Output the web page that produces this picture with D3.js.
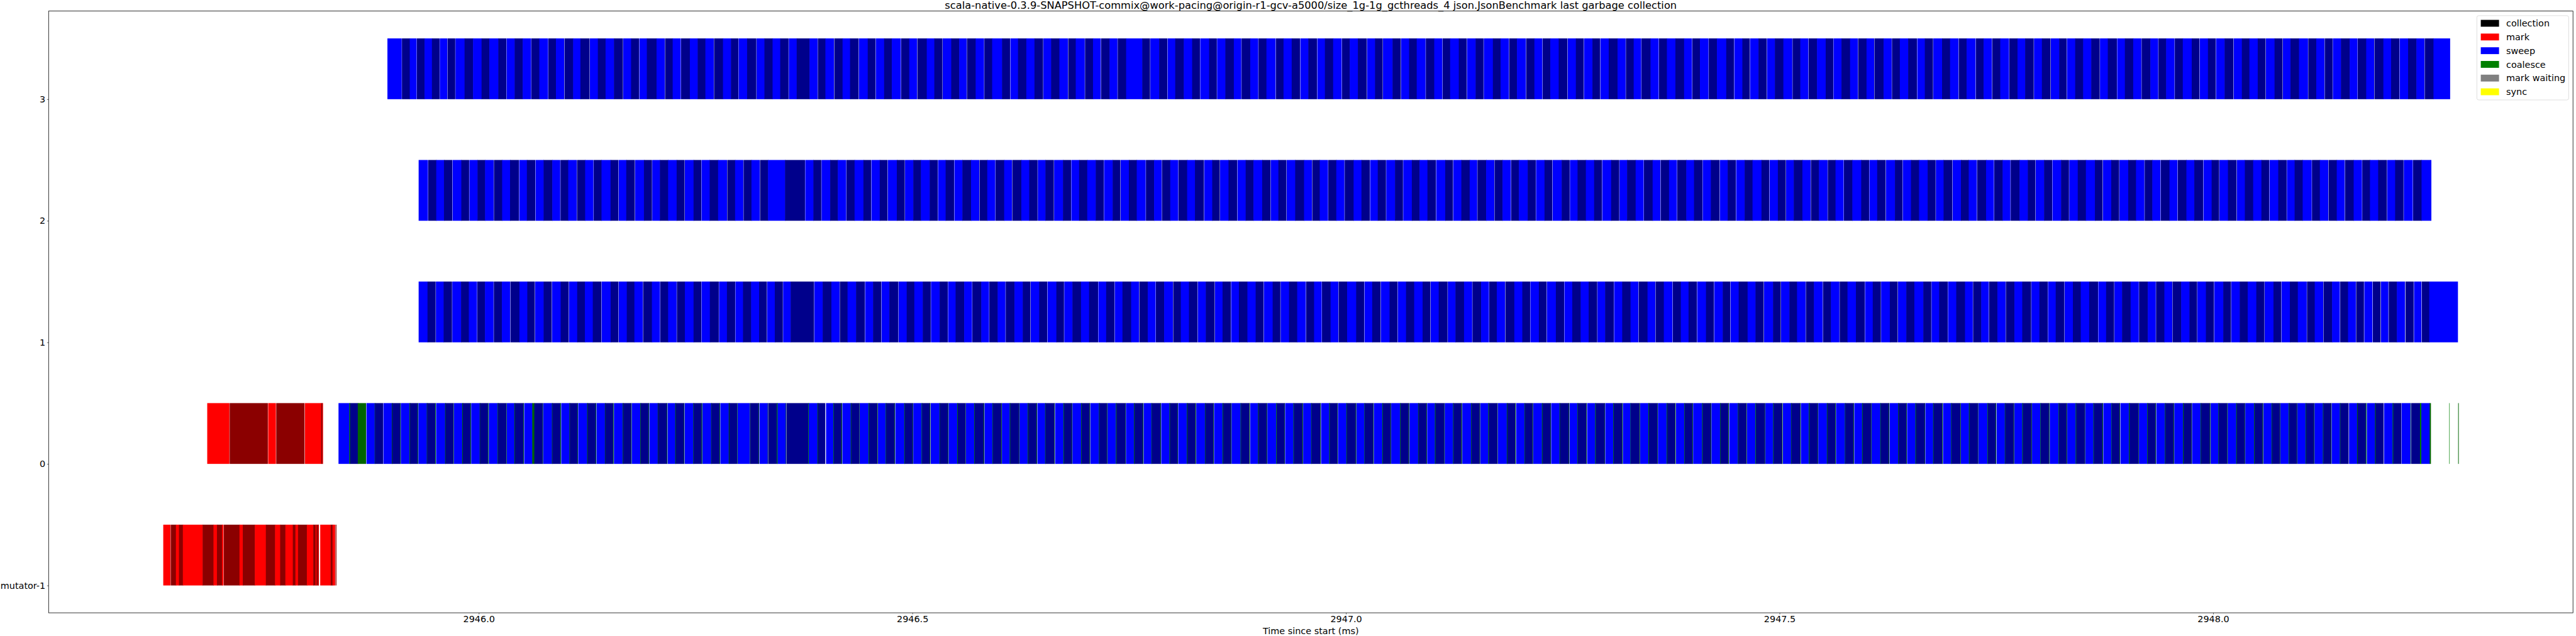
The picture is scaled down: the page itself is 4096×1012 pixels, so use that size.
<!DOCTYPE html>
<html><head><meta charset="utf-8">
<script src="https://cdn.jsdelivr.net/npm/d3@7"></script>
<style>html,body{margin:0;padding:0;background:#fff;overflow:hidden}svg{display:block}</style>
</head><body>
<svg id="chart" width="4096" height="1012"></svg>
<script>
// ---------------- data ----------------
const titleText = "scala-native-0.3.9-SNAPSHOT-commix@work-pacing@origin-r1-gcv-a5000/size_1g-1g_gcthreads_4 json.JsonBenchmark last garbage collection";
const xLabelText = "Time since start (ms)";
const rowLabels = ["mutator-1", "0", "1", "2", "3"];
const rowValues = [-1, 0, 1, 2, 3];
const xTickValues = [2946.0, 2946.5, 2947.0, 2947.5, 2948.0];
const xDomain = [2945.504, 2948.415];
const yDomain = [-1.225, 3.725];
const legendNames = ["collection", "mark", "sweep", "coalesce", "mark waiting", "sync"];
const legendColors = ["black", "red", "blue", "green", "grey", "yellow"];

// Phase durations in microseconds, consecutive from the start time (ms).
// A negative entry is an idle gap of that length.
const mutatorMarkStart = 2945.6362;
const mutatorMark = [8.3,-0.3,6.0,3.5,4.5,22.8,12.5,4.0,5.8,1.8,-0.3,18.1,3.8,13.9,12.7,10.6,5.9,6.0,8.6,3.0,3.0,10.2,7.4,2.6,1.2,1.6,0.7,0.3,-1.6,12.1,2.1,3.0,-0.5,1.0];

const row0MarkStart = 2945.6869;
const row0Mark = [25.6,-0.3,44.0,-0.4,8.9,-0.4,32.6,-0.4,18.8,1.4,0.7];

// row 0 sweep events: [sweepUs, coalesceUs, idleAfterUs]
const row0SweepStart = 2945.8383;
const row0Sweep = [
[12.4,0.9,0],[8.9,9.6,0.4],[9.5,0.3,0],[9.5,0,0.3],
[9.6,0.5,0],[9.2,0.4,0.3],[10.1,0.6,0],[8.8,0.5,0.3],[9.7,0.4,0],[9.3,0.6,0.4],[10.4,0.5,0],[9.0,0.4,0.3],[9.5,0.7,0],[8.9,0.5,0.3],
[9.8,0.4,0],[9.1,0.6,0.4],[10.2,0.5,0],[9.4,0.4,0.3],[8.7,0.6,0],[9.9,0.5,0.3],[9.3,2.4,0],[9.6,0.4,0.3],[10.0,0.5,0],[9.2,0.6,0.4],
[9.5,0.5,0],[8.9,0.4,0.3],[10.3,0.6,0],[9.4,0.5,0.3],[9.7,0.4,0],[9.0,0.6,0.4],[10.1,0.5,0],[9.3,0.4,0.3],[9.8,0.6,0],[9.1,0.5,0.3],
[9.6,0.4,0],[10.2,0.5,0.3],[8.8,0.6,0],[9.5,0.4,0.4],[9.9,0.5,0],[9.2,0.6,0.3],[10.0,0.4,0],[9.4,0.5,0.3],[9.7,0.6,0],[9.0,0.4,0.3],[13.8,0.4,0.3],
[9.8,0.4,0.4],[9.5,0.4,0.3],[9.9,0.8,0],[9.4,0.4,0.4],[25.2,0.6,0],[10.0,0.6,0],[8.4,0,0.9],[8.4,0.5,0],[8.9,0.6,0.4],
[9.7,0.5,0],[9.1,0.4,0.3],[10.2,0.6,0],[9.4,0.5,0.4],[8.9,0.4,0],[9.8,0.6,0.3],[10.3,0.5,0],[9.2,0.4,0.3],[9.6,0.5,0],[9.0,0.6,0.4],
[10.1,0.4,0],[9.3,0.5,0.3],[9.9,0.6,0],[8.8,0.4,0.3],[9.5,0.5,0],[10.4,0.6,0.4],[9.2,0.4,0],[9.7,0.5,0.3],[9.0,0.6,0],[10.0,0.4,0.3],
[9.4,0.5,0],[9.8,0.6,0.3],[8.9,0.4,0],[10.2,0.5,0.4],[9.6,0.6,0],[9.1,0.4,0.3],[10.0,0.5,0],[9.3,0.6,0.3],[9.9,0.4,0],[8.7,0.5,0.3],
[9.6,0.6,0],[10.3,0.4,0.3],[9.2,0.5,0],[9.7,0.6,0.4],[9.0,0.4,0],[10.1,0.5,0.3],[9.5,0.6,0],[8.8,0.4,0.3],[9.9,0.5,0],[9.4,0.6,0.4],
[10.0,0.4,0],[9.3,0.5,0.3],[9.8,0.6,0],[9.1,0.4,0.3],[10.4,0.5,0],[9.6,0.6,0.4],[8.9,0.4,0],[9.7,0.5,0.3],[10.2,0.6,0],[9.0,0.4,0.3],
[9.5,0.5,0],[9.9,0.6,0.3],[9.2,0.4,0],[10.1,0.5,0.4],[9.4,0.6,0],[8.8,0.4,0.3],[9.7,0.5,0],[10.3,0.6,0.3],[9.1,0.4,0],[9.6,0.5,0.3],
[9.8,0.6,0],[9.0,0.4,0.3],[10.2,0.5,0],[9.4,0.6,0.4],[9.9,0.4,0],[9.3,0.5,0.3],[8.9,0.6,0],[10.0,0.4,0.3],[9.6,0.5,0],[9.2,0.6,0.4],
[10.1,0.4,0],[9.5,0.5,0.3],[9.1,0.6,0],[9.8,0.4,0.3],[10.3,0.5,0],[9.2,0.6,0.4],[9.7,0.4,0],[8.9,0.5,0.3],[10.0,0.6,0],[9.4,0.4,0.3],
[9.6,0.5,0],[10.2,0.6,0.3],[9.0,0.4,0],[9.9,0.5,0.4],[9.3,0.6,0],[10.4,0.4,0.3],[9.1,0.5,0],[9.7,0.6,0.3],[8.8,0.4,0],[10.0,0.5,0.3],
[9.4,0.6,0],[9.8,0.4,0.3],[10.1,0.5,0],[9.2,0.6,0.4],[9.6,0.4,0],[9.0,0.5,0.3],[10.3,0.6,0],[9.5,0.4,0.3],[9.9,0.5,0],[9.1,0.6,0.4],
[10.0,0.4,0],[9.3,0.5,0.3],[9.7,0.6,0],[10.2,0.4,0.3],[8.9,0.5,0],[9.8,0.6,0.4],[9.4,0.4,0],[10.1,0.5,0.3],[9.2,0.6,0],[9.6,0.4,0.3],
[9.9,0.5,0],[9.1,0.6,0.3],[10.3,0.4,0],[9.5,0.5,0.4],[9.0,0.6,0],[9.7,0.4,0.3],[10.0,0.5,0],[9.3,0.6,0.3],[9.8,0.4,0],[9.2,0.5,0.3],
[9.6,0.6,0],[10.2,0.4,0.3],[8.9,0.5,0],[9.9,0.6,0.4],[9.4,0.4,0],[10.1,0.5,0.3],[9.2,0.6,0],[9.7,0.4,0.3],[10.4,0.5,0],[9.0,0.6,0.4],
[9.5,0.4,0],[9.8,0.5,0.3],[9.1,0.6,0],[10.0,0.4,0.3],[9.6,0.5,0],[9.3,0.6,0.4],[10.2,0.4,0],[8.8,0.5,0.3],[9.7,0.6,0],[9.9,0.4,0.3],
[9.2,0.5,0],[10.1,0.6,0.3],[9.4,0.4,0],[9.0,0.5,0.4],[9.8,0.6,0],[10.3,0.4,0.3],[9.5,0.5,0],[9.1,0.6,0.3],[9.9,0.4,0],[9.6,0.5,0.3],
[10.0,0.6,0],[9.3,0.4,0.3],[9.7,0.5,0],[10.2,0.6,0.4],[8.9,0.4,0],[9.5,0.5,0.3],[9.8,0.6,0],[9.2,0.4,0.3],[10.1,0.5,0],[9.4,0.6,0.4],
[9.3,0.5,0],[9.0,0.4,0.3],[9.6,0.5,0],[8.8,0.4,0.3],[9.4,0.5,0],[9.1,0.4,0.3],[9.7,0.5,0],[8.9,0.4,0.3],[9.5,0.5,0],[9.6,0,0.5],
[9.2,0.7,0],[9.4,0.7,0.5],[9.4,0.7,0],[9.2,0,0.5],[9.9,0.7,0],[9.4,0,0.3],[10.1,0.5,0.5],[10.1,1.5,0],[9.6,1.5,0]
];
// isolated coalesce slivers after the row 0 sweep: [startMs, durationUs]
const row0TailCoalesce = [[2948.2723, 0.5], [2948.2826, 0.7]];

const row1SweepStart = 2945.9307;
const row1Sweep = [
10.2,9.4,-0.3,8.9,9.7,-0.3,10.1,9.0,9.5,-0.3,8.8,9.9,-0.3,9.3,
9.6,-0.3,10.3,9.1,8.7,-0.3,9.8,9.4,-0.3,10.0,9.2,-0.3,9.5,8.9,
9.1,9.9,-0.3,10.4,9.0,-0.3,9.3,8.8,9.7,-0.3,10.2,9.4,-0.3,9.0,
9.8,-0.3,9.2,10.0,8.9,-0.3,9.6,10.3,-0.3,9.1,9.5,-0.3,8.7,9.4,
9.2,9.0,-0.3,8.8,9.3,-0.3,8.7,27.0,-0.3,9.6,10.1,
9.4,-0.3,8.9,9.8,10.2,-0.3,9.1,9.5,-0.3,9.0,10.4,-0.3,9.3,8.8,
9.7,9.2,-0.3,10.0,9.4,-0.3,8.7,9.9,9.1,-0.3,10.3,9.0,-0.3,9.6,
9.0,-0.3,10.1,9.5,8.9,-0.3,9.8,9.3,-0.3,10.2,8.8,-0.3,9.4,9.9,
9.3,10.4,-0.3,9.0,9.6,-0.3,8.9,10.0,9.2,-0.3,9.7,9.1,-0.3,9.5,
10.1,-0.3,8.8,9.4,9.9,-0.3,9.2,10.3,-0.3,8.7,9.6,-0.3,9.0,9.8,
9.5,9.1,-0.3,10.2,8.9,-0.3,9.7,9.4,10.0,-0.3,9.2,8.8,-0.3,9.9,
9.0,-0.3,9.8,10.4,9.3,-0.3,8.9,9.6,-0.3,10.1,9.2,-0.3,9.5,9.4,
9.7,9.0,-0.3,9.3,10.2,-0.3,8.8,9.9,9.4,-0.3,10.0,9.1,-0.3,8.7,
9.6,-0.3,10.3,9.2,9.0,-0.3,9.8,8.9,-0.3,10.4,9.5,-0.3,9.1,9.7,
9.2,9.9,-0.3,8.8,10.0,-0.3,9.4,9.6,9.1,-0.3,10.2,9.0,-0.3,9.5,
10.0,-0.3,9.3,8.9,9.7,-0.3,10.1,9.2,-0.3,9.8,8.7,-0.3,9.4,10.3,
9.1,9.5,-0.3,10.4,9.0,-0.3,9.6,8.8,9.9,-0.3,9.3,10.1,-0.3,9.2,
9.8,-0.3,9.0,9.7,10.2,-0.3,8.9,9.4,-0.3,10.0,9.1,-0.3,9.6,9.3,
10.3,9.2,-0.3,8.8,9.9,-0.3,9.5,10.1,9.0,-0.3,9.4,8.7,-0.3,9.7,
9.4,-0.3,9.9,9.0,10.3,-0.3,9.2,9.6,-0.3,8.9,10.0,-0.3,9.5,9.1,
9.7,10.2,-0.3,9.0,9.3,-0.3,8.8,9.9,9.4,-0.3,10.1,9.2,-0.3,9.6,
9.1,-0.3,10.0,9.5,8.9,-0.3,9.8,9.3,-0.3,10.4,9.0,-0.3,9.7,9.2,
9.9,9.4,-0.3,10.1,9.0,-0.3,9.6,9.2,10.3,-0.3,8.9,9.8,-0.3,9.9,
9.0,-0.4,9.0,9.0,-0.35,9.0,-0.4,9.4,-0.4,9.0,-0.4,8.6,-0.4,9.4,9.4,-0.5,9.4,-0.4,8.6,-0.4,8.6,33.1
];

const row2SweepStart = 2945.9307;
const row2Sweep = [
10.8,-0.3,9.2,8.9,9.6,-0.3,10.1,9.0,-0.3,9.4,8.7,9.9,-0.3,9.5,
9.1,10.3,-0.3,8.8,9.7,-0.3,9.3,10.0,9.2,-0.3,8.9,9.8,-0.3,9.4,
9.6,-0.3,9.0,10.4,9.1,-0.3,8.7,9.9,-0.3,10.2,9.3,-0.3,8.8,9.5,
9.8,9.2,-0.3,10.0,8.9,-0.3,9.4,9.7,10.3,-0.3,9.0,9.5,-0.3,9.1,
9.6,-0.3,9.2,19.6,23.0,-0.3,9.4,9.1,-0.3,10.0,8.8,
9.7,-0.3,9.3,10.2,8.9,-0.3,9.6,9.0,-0.3,10.4,9.2,-0.3,9.5,8.8,
10.1,9.4,-0.3,8.7,9.8,-0.3,9.2,10.0,9.5,-0.3,8.9,9.3,-0.3,9.9,
9.0,-0.3,10.5,9.1,9.6,-0.3,8.8,9.7,-0.3,10.2,9.3,-0.3,9.0,9.4,
9.8,9.2,-0.3,10.0,8.9,-0.3,9.5,9.1,10.3,-0.3,9.4,8.7,-0.3,9.6,
9.3,-0.3,9.9,9.0,10.4,-0.3,9.2,8.8,-0.3,9.7,10.1,-0.3,9.4,9.0,
10.0,9.5,-0.3,8.9,9.3,-0.3,9.8,10.2,9.1,-0.3,8.7,9.6,-0.3,9.2,
9.4,-0.3,10.3,9.0,9.7,-0.3,8.8,9.5,-0.3,10.1,9.2,-0.3,9.9,8.9,
9.1,9.8,-0.3,10.4,9.0,-0.3,9.3,9.6,8.7,-0.3,10.0,9.4,-0.3,9.2,
9.7,-0.3,8.9,10.1,9.3,-0.3,9.8,9.0,-0.3,10.5,9.2,-0.3,8.8,9.6,
9.5,9.1,-0.3,10.2,9.4,-0.3,8.7,9.9,9.3,-0.3,10.0,9.0,-0.3,9.6,
9.2,-0.3,10.4,8.9,9.7,-0.3,9.4,10.1,-0.3,9.0,9.5,-0.3,9.8,9.1,
10.3,9.0,-0.3,9.6,9.2,-0.3,8.8,10.0,9.5,-0.3,9.3,9.9,-0.3,8.9,
9.4,-0.3,9.7,10.2,9.1,-0.3,9.0,9.8,-0.3,10.4,8.7,-0.3,9.5,9.3,
9.9,9.2,-0.3,8.9,10.1,-0.3,9.6,9.0,9.4,-0.3,10.3,9.1,-0.3,9.7,
9.0,-0.3,10.2,9.5,8.8,-0.3,9.7,9.3,-0.3,10.0,9.1,-0.3,9.8,9.4,
10.4,8.9,-0.3,9.6,9.2,-0.3,10.1,9.0,9.7,-0.3,8.8,9.5,-0.3,10.0,
9.3,-0.3,9.9,9.1,10.3,-0.3,9.4,8.7,-0.3,9.8,10.0,-0.3,9.2,9.6,
9.5,9.0,-0.3,10.1,9.7,-0.3,8.9,9.3,10.4,-0.3,9.1,9.8,-0.3,9.4,
9.2,-0.3,10.0,9.6,-0.3,8.9,9.4,10.2,-0.3,9.1,9.7,-0.3,10.4,-0.3,9.8,11.3
];

const row3SweepStart = 2945.8947;
const row3Sweep = [
16.5,-0.25,9.0,8.0,-0.25,8.8,8.5,8.8,-0.25,8.8,-0.25,8.8,-0.25,10.5,9.8,9.8,9.0,10.3,9.3,-0.25,9.3,9.3,9.8,-0.25,
9.1,10.2,-0.3,8.7,9.6,-0.3,9.9,8.4,10.6,-0.3,9.2,8.9,9.7,
10.4,-0.3,9.0,9.3,-0.3,8.6,11.2,9.5,-0.3,8.8,9.4,-0.3,10.1,9.0,
8.9,9.7,-0.3,10.3,9.2,8.5,-0.3,9.8,10.7,-0.3,9.0,9.4,8.8,
9.6,-0.3,9.1,14.8,9.3,-0.3,8.7,10.0,-0.3,9.5,8.6,9.9,-0.3,
10.2,9.0,-0.3,9.6,8.9,10.5,-0.3,9.3,9.1,-0.3,10.8,8.7,9.4,
-0.3,9.8,9.2,8.6,-0.3,10.1,9.7,-0.3,9.0,11.4,9.3,-0.3,8.8,9.6,
9.4,10.0,-0.3,8.9,9.5,9.9,-0.3,8.7,10.4,-0.3,9.2,9.0,-0.3,9.8,
9.1,-0.3,9.7,18.6,9.0,-0.3,10.2,9.4,-0.3,8.8,9.9,
9.6,9.0,-0.3,10.3,8.9,-0.3,9.5,9.8,8.6,-0.3,10.0,9.3,-0.3,9.1,
10.6,-0.3,8.8,9.4,9.7,-0.3,9.2,10.1,-0.3,8.7,9.5,9.9,-0.3,9.0,
9.3,10.4,-0.3,9.1,8.9,-0.3,11.0,9.6,-0.3,9.2,8.8,10.2,-0.3,
9.7,9.4,-0.3,8.6,10.0,9.2,-0.3,9.9,9.1,-0.3,10.5,8.9,9.6,-0.3,
9.0,10.3,-0.3,9.5,9.2,-0.3,8.8,9.7,10.1,-0.3,9.4,9.0,-0.3,9.8,
8.9,-0.3,9.6,10.2,9.3,-0.3,9.0,8.7,-0.3,10.4,9.5,-0.3,9.1,9.8,
10.0,9.2,-0.3,8.8,9.9,-0.3,9.4,10.7,9.0,-0.3,9.3,8.6,-0.3,9.7,
9.5,-0.3,9.1,9.8,10.3,-0.3,8.9,9.4,-0.3,9.6,10.0,8.7,-0.3,9.2,
9.9,9.0,-0.3,9.7,8.8,-0.3,10.6,9.3,-0.3,9.1,9.6,10.2,-0.3,
8.7,9.5,-0.3,10.1,9.2,9.8,-0.3,9.0,10.4,-0.3,8.9,9.6,-0.3,9.3,
10.2,-0.3,9.4,8.8,9.9,-0.3,9.1,10.0,-0.3,9.7,8.6,-0.3,9.5,9.2,
9.3,9.8,-0.3,9.0,10.5,-0.3,8.9,9.6,9.4,-0.3,10.1,9.1,-0.3,8.8,
9.7,-0.3,9.2,10.3,8.9,-0.3,9.5,9.0,-0.3,9.9,10.2,-0.3,9.4,8.7,
9.6,9.1,-0.3,10.0,9.3,-0.3,8.8,9.8,10.4,-0.3,9.2,9.5,-0.3,9.0,
-0.3,9.4,10.1,9.0,-0.3,9.7,9.2,-0.3,10.3,8.9,9.5,-0.3,9.8,9.6,9.3,-0.3,10.1,19.2
];

// ---------------- layout ----------------
const W = 4096, H = 1012;
const M = {left: 77.3, right: 4091.2, top: 17.6, bottom: 975.1};
const FONT = "'DejaVu Sans', sans-serif";
const FS = 14.4;

const svg = d3.select("#chart");
svg.append("rect").attr("width", W).attr("height", H).attr("fill", "#fff");

const x = d3.scaleLinear().domain(xDomain).range([M.left, M.right]);
const y = d3.scaleLinear().domain(yDomain).range([M.bottom, M.top]);

const sweepColors = ["blue", "darkblue"];
const markColors = ["red", "darkred"];
const coalColors = ["green", "darkgreen"];

function tokenSegs(start, tokens, colors, row) {
  let t = start, k = 0; const out = [];
  tokens.forEach((v, i) => {
    if (v < 0) { t += -v / 1000; return; }
    const next = tokens[i + 1];
    out.push({row, t0: t, t1: t + v / 1000, color: colors[k % 2], joined: next !== undefined && next > 0});
    k++; t += v / 1000;
  });
  return out;
}
function sweepCoalSegs(start, list, row) {
  let t = start, ci = 0; const out = [];
  list.forEach((e, i) => {
    const [s, c, g] = e;
    const last = i === list.length - 1;
    out.push({row, t0: t, t1: t + s / 1000, color: sweepColors[i % 2], joined: c > 0 || (g === 0 && !last)});
    t += s / 1000;
    if (c > 0) {
      out.push({row, t0: t, t1: t + c / 1000, color: coalColors[ci % 2], joined: g === 0 && !last});
      ci++; t += c / 1000;
    }
    t += g / 1000;
  });
  return out;
}

const segs = [].concat(
  tokenSegs(mutatorMarkStart, mutatorMark, markColors, -1),
  tokenSegs(row0MarkStart, row0Mark, markColors, 0),
  sweepCoalSegs(row0SweepStart, row0Sweep, 0),
  row0TailCoalesce.map((d, i) => ({row: 0, t0: d[0], t1: d[0] + d[1] / 1000, color: coalColors[i % 2], joined: false})),
  tokenSegs(row1SweepStart, row1Sweep, sweepColors, 1),
  tokenSegs(row2SweepStart, row2Sweep, sweepColors, 2),
  tokenSegs(row3SweepStart, row3Sweep, sweepColors, 3)
);

// contiguous segments overlap the next one by a hair to avoid anti-aliasing seams
const plot = svg.append("g");
plot.selectAll("rect.seg").data(segs).join("rect")
  .attr("class", "seg")
  .attr("x", d => x(d.t0))
  .attr("width", d => Math.max(0, x(d.t1) - x(d.t0)) + (d.joined ? 0.6 : 0))
  .attr("y", d => y(d.row + 0.5))
  .attr("height", d => y(d.row) - y(d.row + 0.5))
  .attr("fill", d => d.color);

// frame
svg.append("rect")
  .attr("x", M.left).attr("y", M.top)
  .attr("width", M.right - M.left).attr("height", M.bottom - M.top)
  .attr("fill", "none").attr("stroke", "#000").attr("stroke-width", 0.8);

// x axis
const xAxis = d3.axisBottom(x).tickValues(xTickValues).tickFormat(d3.format(".1f"))
  .tickSize(2.5).tickPadding(2.6);
const gx = svg.append("g").attr("transform", `translate(0,${M.bottom})`).call(xAxis);
gx.select(".domain").remove();
gx.selectAll("line").attr("stroke", "#000").attr("stroke-width", 0.6);
gx.selectAll("text").attr("font-family", FONT).attr("font-size", FS).attr("fill", "#000");

// y axis
const yAxis = d3.axisLeft(y).tickValues(rowValues).tickFormat((d, i) => rowLabels[i])
  .tickSize(2.5).tickPadding(2.6);
const gy = svg.append("g").attr("transform", `translate(${M.left},0)`).call(yAxis);
gy.select(".domain").remove();
gy.selectAll("line").attr("stroke", "#000").attr("stroke-width", 0.6);
gy.selectAll("text").attr("font-family", FONT).attr("font-size", FS).attr("fill", "#000");

// title
svg.append("text")
  .attr("x", (M.left + M.right) / 2).attr("y", 14.2)
  .attr("text-anchor", "middle")
  .attr("font-family", FONT).attr("font-size", 16.3)
  .text(titleText);

// x label
svg.append("text")
  .attr("x", (M.left + M.right) / 2).attr("y", 1008.5)
  .attr("text-anchor", "middle")
  .attr("font-family", FONT).attr("font-size", FS)
  .text(xLabelText);

// legend
const lg = svg.append("g");
lg.append("rect")
  .attr("x", 3938.4).attr("y", 24.9).attr("width", 146).attr("height", 134.1)
  .attr("rx", 2.9).attr("ry", 2.9)
  .attr("fill", "#fff").attr("fill-opacity", 0.8)
  .attr("stroke", "#d6d6d6").attr("stroke-width", 0.8);
const items = lg.selectAll("g.item").data(legendNames).join("g")
  .attr("class", "item")
  .attr("transform", (d, i) => `translate(0,${i * 21.8})`);
items.append("rect")
  .attr("x", 3944.6).attr("y", 31.6).attr("width", 29).attr("height", 10.9)
  .attr("fill", (d, i) => legendColors[i]);
items.append("text")
  .attr("x", 3985).attr("y", 42.3)
  .attr("font-family", FONT).attr("font-size", FS)
  .text(d => d);
</script>
</body></html>
